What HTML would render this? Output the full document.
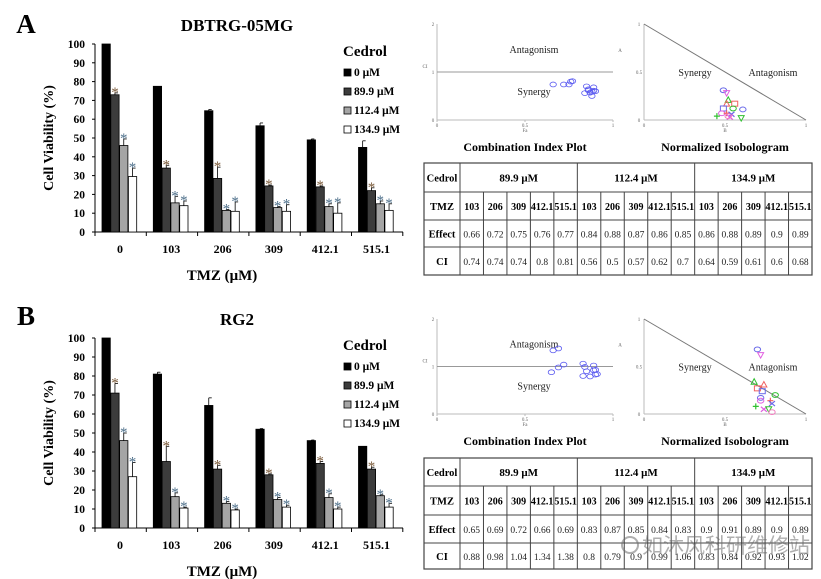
<!DOCTYPE html>
<html><head><meta charset="utf-8"><style>
html,body{margin:0;padding:0;background:#fff;}
svg{display:block;font-family:"Liberation Serif","Noto Serif CJK SC",serif;}
</style></head><body>
<svg id="fig" width="821" height="579" viewBox="0 0 821 579" xmlns="http://www.w3.org/2000/svg"></svg>
<script>
// ---------- data ----------
const tmzLabels = ['0','103','206','309','412.1','515.1'];
const seriesNames = ['0 μM','89.9 μM','112.4 μM','134.9 μM'];
const yTicks = [0,10,20,30,40,50,60,70,80,90,100];
// Panel A (DBTRG-05MG)
const aCtrl = [100,77.5,64.5,56.5,49,45];
const a899 = [73,34,28.5,24.5,24,22];
const a1124 = [46,15.5,11.5,13,13.5,15];
const a1349 = [29.5,14,11,11,10,11.5];
const aErrCtrl = [0,0,0.7,1.5,0.5,3.5];
const aErr899 = [1,1.5,6,0.5,0.5,1.5];
const aErr1124 = [3.5,3.5,0.5,0.5,1.5,1.5];
const aErr1349 = [4.5,2.5,5,3.5,5.5,3.5];
// Panel B (RG2)
const bCtrl = [100,81,64.5,52,46,43];
const b899 = [71,35,31,28,34,31];
const b1124 = [46,16.5,13,15,16,17];
const b1349 = [27,10.5,9.5,11,10,11];
const bErrCtrl = [0,1,4,0.3,0.3,0];
const bErr899 = [5,8,2,0.5,1,1];
const bErr1124 = [4,2,1,1,2,0.5];
const bErr1349 = [7.5,0.5,0.5,1,1,2];
// Tables
const tableGroups = ['89.9 μM','112.4 μM','134.9 μM'];
const tableTmz = ['103','206','309','412.1','515.1'];
const aEffect = [0.66,0.72,0.75,0.76,0.77,0.84,0.88,0.87,0.86,0.85,0.86,0.88,0.89,0.9,0.89];
const aCI = [0.74,0.74,0.74,0.8,0.81,0.56,0.5,0.57,0.62,0.7,0.64,0.59,0.61,0.6,0.68];
const bEffect = [0.65,0.69,0.72,0.66,0.69,0.83,0.87,0.85,0.84,0.83,0.9,0.91,0.89,0.9,0.89];
const bCI = [0.88,0.98,1.04,1.34,1.38,0.8,0.79,0.9,0.99,1.06,0.83,0.84,0.92,0.93,1.02];
// Isobologram points (normalized dose x, y) and markers
const isoMarkers = ['o','v','^','^','s','s','o','o','o','+','x','+','x','v','o'];
const isoColors = ['#6a6ae8','#e060e0','#30c030','#f06060','#f06060','#6a6ae8','#30c030','#6a6ae8','#e060e0','#f06060','#6a6ae8','#30c030','#e060e0','#30c030','#f080c0'];
const aIsoX = [0.49,0.51,0.52,0.51,0.56,0.49,0.55,0.61,0.48,0.51,0.54,0.45,0.53,0.60,0.52];
const aIsoY = [0.31,0.28,0.21,0.17,0.17,0.12,0.12,0.11,0.07,0.07,0.06,0.04,0.03,0.02,0.04];
const bIsoX = [0.70,0.72,0.68,0.74,0.70,0.73,0.81,0.72,0.72,0.78,0.79,0.69,0.74,0.77,0.79];
const bIsoY = [0.68,0.62,0.34,0.31,0.27,0.24,0.20,0.17,0.14,0.14,0.11,0.08,0.05,0.05,0.02];

// ---------- helpers ----------
const svg = document.getElementById('fig');
const NS = 'http://www.w3.org/2000/svg';
function mk(tag, attrs, parent){
  const e = document.createElementNS(NS, tag);
  for (const k in attrs) e.setAttribute(k, attrs[k]);
  (parent||svg).appendChild(e);
  return e;
}
function txt(s, x, y, size, opts, parent){
  const o = Object.assign({x:x, y:y, 'font-size':size, 'text-anchor':'middle', fill:'#000'}, opts||{});
  const t = mk('text', o, parent);
  t.textContent = s;
  return t;
}
const barFills = ['#000','#3c3c3c','#a5a5a5','#fff'];

function barChart(letter, title, y0, y100, letterY, titleY, series, errs, name){
  const g = mk('g', {});
  
  
  const ys = v => y0 - (y0 - y100) * v / 100;
  const gc = i => 120 + i * 51.3;
  const L = txt(letter, 26, letterY, 27, {'font-weight':'bold'}, g);
  
  
  const T = txt(title, 237, titleY, 17, {'font-weight':'bold'}, g);
  
  
  const ya = mk('line', {x1:95, y1:y100, x2:95, y2:y0, stroke:'#000', 'stroke-width':1}, g);
  
  
  const xa = mk('line', {x1:95, y1:y0, x2:403, y2:y0, stroke:'#000', 'stroke-width':1}, g);
  
  
  yTicks.forEach(v => {
    mk('line', {x1:92, y1:ys(v), x2:95, y2:ys(v), stroke:'#000'}, g);
    const t = txt(String(v), 85, ys(v) + 4, 11.5, {'font-weight':'bold', 'text-anchor':'end'}, g);
    
    
  });
  for (let i = 0; i <= tmzLabels.length; i++) {
    const x = 95 + i * 51.3;
    mk('line', {x1:x, y1:y0, x2:x, y2:y0 + 4, stroke:'#000'}, g);
  }
  const yt = txt('Cell Viability (%)', 0, 0, 14, {'font-weight':'bold', transform:'translate(53,' + ((y0 + y100) / 2) + ') rotate(-90)'}, g);
  
  
  tmzLabels.forEach((l, i) => {
    const t = txt(l, gc(i), y0 + 21, 12, {'font-weight':'bold'}, g);
    
    
  });
  const xt = txt('TMZ (μM)', 222, y0 + 48, 15, {'font-weight':'bold'}, g);
  
  
  series.forEach((vals, j) => {
    vals.forEach((v, i) => {
      const x = gc(i) - 18 + j * 8.8;
      const b = mk('rect', {x:x, y:ys(v), width:8.3, height:y0 - ys(v), fill:barFills[j], stroke:'#000', 'stroke-width':0.8}, g);
      
      
      const e = errs[j][i];
      const cx = x + 4.15;
      if (e > 0) {
        mk('line', {x1:cx, y1:ys(v), x2:cx, y2:ys(v + e), stroke:'#000', 'stroke-width':0.8}, g);
        mk('line', {x1:cx, y1:ys(v + e), x2:cx + 3, y2:ys(v + e), stroke:'#000', 'stroke-width':0.8}, g);
      }
      if (j > 0) {
        const s = txt('*', cx, ys(v + e) + 4, 15, {fill: j === 1 ? '#7a5a3a' : '#4d6f8a'}, g);
        
        
      }
    });
  });
  const lg = mk('g', {}, g);
  
  
  txt('Cedrol', 365, y100 + 12, 15, {'font-weight':'bold'}, lg);
  seriesNames.forEach((n, j) => {
    const yy = y100 + 28 + j * 19;
    const sw = mk('rect', {x:344, y:yy - 3, width:7, height:7, fill:barFills[j], stroke:'#000', 'stroke-width':0.8}, lg);
    
    
    const t = txt(n, 354, yy + 4, 11.5, {'font-weight':'bold', 'text-anchor':'start'}, lg);
    
    
  });
}

function ciPlot(effect, ci, yTop, yBot, name){
  const g = mk('g', {});
  
  
  const x0 = 437, x1 = 613;
  const xs = v => x0 + (x1 - x0) * v;
  const ys = v => yBot - (yBot - yTop) * v / 2;
  mk('line', {x1:x0, y1:yTop, x2:x0, y2:yBot, stroke:'#bbb'}, g);
  mk('line', {x1:x0, y1:yBot, x2:x1, y2:yBot, stroke:'#bbb'}, g);
  const ref = mk('line', {x1:x0, y1:ys(1), x2:x1, y2:ys(1), stroke:'#999'}, g);
  
  
  [0,0.5,1].forEach(v => { txt(String(v), xs(v), yBot + 7, 5, {fill:'#666'}, g); mk('line',{x1:xs(v),y1:yBot,x2:xs(v),y2:yBot+2,stroke:'#bbb'},g); });
  [0,1,2].forEach(v => { txt(String(v), x0 - 4, ys(v) + 2, 5, {fill:'#666'}, g); });
  txt('Fa', xs(0.5), yBot + 12, 5, {fill:'#666'}, g);
  txt('CI', 425, ys(1) - 4, 5, {fill:'#666'}, g);
  txt('Antagonism', 534, ys(1) - 19, 10, {fill:'#222'}, g);
  txt('Synergy', 534, ys(1) + 23, 10, {fill:'#222'}, g);
  effect.forEach((f, i) => {
    const c = mk('ellipse', {cx:xs(f), cy:ys(ci[i]), rx:3.2, ry:2.4, fill:'none', stroke:'#5a5af0', 'stroke-width':0.8}, g);
    
    
  });
  const t = txt('Combination Index Plot', 525, yBot + 31, 12, {'font-weight':'bold'}, g);
  
  
}

function isoPlot(px, py, yTop, yBot, name){
  const g = mk('g', {});
  
  
  const x0 = 644, x1 = 806;
  const xs = v => x0 + (x1 - x0) * v;
  const ys = v => yBot - (yBot - yTop) * v;
  mk('line', {x1:x0, y1:yTop, x2:x0, y2:yBot, stroke:'#bbb'}, g);
  mk('line', {x1:x0, y1:yBot, x2:x1, y2:yBot, stroke:'#bbb'}, g);
  const d = mk('line', {x1:xs(0), y1:ys(1), x2:xs(1), y2:ys(0), stroke:'#777'}, g);
  
  
  [0,0.5,1].forEach(v => { txt(String(v), xs(v), yBot + 7, 5, {fill:'#666'}, g); txt(String(v), x0 - 5, ys(v) + 2, 5, {fill:'#666'}, g); });
  txt('B', xs(0.5), yBot + 12, 5, {fill:'#666'}, g);
  txt('A', 620, ys(0.5) - 20, 5, {fill:'#666'}, g);
  txt('Synergy', 695, ys(0.5) + 4, 10, {fill:'#222'}, g);
  txt('Antagonism', 773, ys(0.5) + 4, 10, {fill:'#222'}, g);
  px.forEach((v, i) => {
    const cx = xs(v), cy = ys(py[i]), col = isoColors[i], m = isoMarkers[i];
    let e;
    if (m === 'o') e = mk('ellipse', {cx:cx, cy:cy, rx:3.2, ry:2.4, fill:'none', stroke:col, 'stroke-width':1}, g);
    else if (m === 's') e = mk('rect', {x:cx-3, y:cy-2.5, width:6, height:5, fill:'none', stroke:col, 'stroke-width':1}, g);
    else if (m === '^') e = mk('polygon', {points:(cx-3)+','+(cy+2.5)+' '+(cx+3)+','+(cy+2.5)+' '+cx+','+(cy-3), fill:'none', stroke:col, 'stroke-width':1}, g);
    else if (m === 'v') e = mk('polygon', {points:(cx-3)+','+(cy-2.5)+' '+(cx+3)+','+(cy-2.5)+' '+cx+','+(cy+3), fill:'none', stroke:col, 'stroke-width':1}, g);
    else if (m === '+') e = mk('path', {d:'M'+(cx-3)+' '+cy+'H'+(cx+3)+'M'+cx+' '+(cy-3)+'V'+(cy+3), stroke:col, 'stroke-width':1.2}, g);
    else e = mk('path', {d:'M'+(cx-3)+' '+(cy-2.5)+'L'+(cx+3)+' '+(cy+2.5)+'M'+(cx-3)+' '+(cy+2.5)+'L'+(cx+3)+' '+(cy-2.5), stroke:col, 'stroke-width':1.2}, g);
    
    
  });
  const t = txt('Normalized Isobologram', 725, yBot + 31, 12, {'font-weight':'bold'}, g);
  
  
}

function table(rowsY, effect, ci, name){
  const g = mk('g', {});
  
  
  const xL = 424, xC = 460, xR = 812, cw = (xR - xC) / 15;
  const yT = rowsY[0], yB = rowsY[4];
  mk('rect', {x:xL, y:yT, width:xR - xL, height:yB - yT, fill:'none', stroke:'#444', 'stroke-width':1.2}, g);
  rowsY.slice(1, 4).forEach(y => mk('line', {x1:xL, y1:y, x2:xR, y2:y, stroke:'#444'}, g));
  mk('line', {x1:xC, y1:yT, x2:xC, y2:yB, stroke:'#444'}, g);
  for (let k = 1; k < 15; k++) {
    const x = xC + k * cw;
    mk('line', {x1:x, y1:(k % 5 === 0 ? yT : rowsY[1]), x2:x, y2:yB, stroke:'#444'}, g);
  }
  const mid = r => (rowsY[r] + rowsY[r + 1]) / 2 + 4;
  ['Cedrol','TMZ','Effect','CI'].forEach((h, r) => txt(h, (xL + xC) / 2, mid(r), 10.5, {'font-weight':'bold'}, g));
  tableGroups.forEach((h, k) => txt(h, xC + (k * 5 + 2.5) * cw, mid(0), 11, {'font-weight':'bold'}, g));
  for (let k = 0; k < 15; k++) {
    const cx = xC + (k + 0.5) * cw;
    txt(tableTmz[k % 5], cx, mid(1), 10, {'font-weight':'bold'}, g);
    const e = txt(String(effect[k]), cx, mid(2), 9.5, {fill:'#222'}, g);
    
    
    const c = txt(String(ci[k]), cx, mid(3), 9.5, {fill:'#222'}, g);
    
    
  }
}

barChart('A', 'DBTRG-05MG', 232, 44, 33, 31, [aCtrl, a899, a1124, a1349], [aErrCtrl, aErr899, aErr1124, aErr1349], 'bar-chart-dbtrg');
barChart('B', 'RG2', 528, 338, 325, 325, [bCtrl, b899, b1124, b1349], [bErrCtrl, bErr899, bErr1124, bErr1349], 'bar-chart-rg2');
ciPlot(aEffect, aCI, 24, 120, 'ci-plot-a');
ciPlot(bEffect, bCI, 319, 414, 'ci-plot-b');
isoPlot(aIsoX, aIsoY, 24, 120, 'isobologram-a');
isoPlot(bIsoX, bIsoY, 319, 414, 'isobologram-b');
table([163, 192, 220, 247, 275], aEffect, aCI, 'table-a');
table([458, 486, 515, 543, 569], bEffect, bCI, 'table-b');

const wm = mk('text', {x:642, y:553, 'font-size':21, fill:'rgba(110,110,110,0.55)', 'font-family':'"Noto Sans CJK SC", sans-serif'});


wm.textContent = '如沐风科研维修站';
const wmIcon = mk('circle', {cx:630, cy:545, r:8, fill:'none', stroke:'rgba(110,110,110,0.55)', 'stroke-width':2});


</script>
</body></html>
